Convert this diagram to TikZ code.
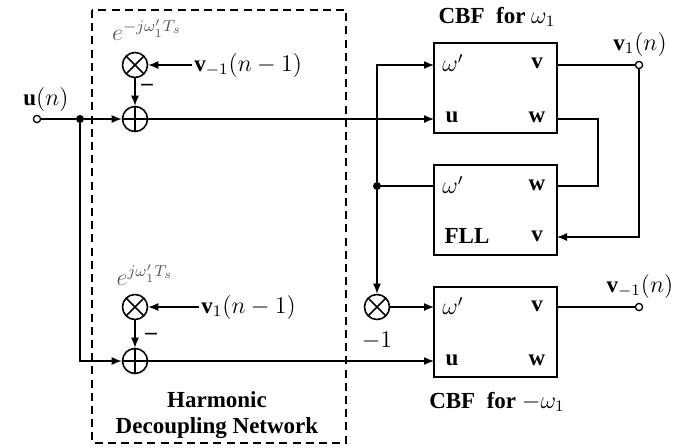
\documentclass[tikz,border=0pt]{standalone}
\usepackage{fontspec}
\setmainfont{Liberation Serif}
\usetikzlibrary{arrows.meta}
\begin{document}
\begin{tikzpicture}[x=0.5pt,y=-0.5pt,
  font=\fontsize{11.5}{13.8}\selectfont,
  conn/.style={line width=0.65pt},
  arr/.style={conn,-{Latex[length=5pt,width=4pt]}},
  blk/.style={draw,line width=1.4pt,minimum width=61.5pt,minimum height=45pt,inner sep=0pt},
  mult/.style={circle,draw,line width=0.8pt,minimum size=12.5pt,inner sep=0pt,
    path picture={\draw[line width=0.8pt] (path picture bounding box.north west) -- (path picture bounding box.south east)
      (path picture bounding box.north east) -- (path picture bounding box.south west);}},
  adder/.style={circle,draw,line width=0.8pt,minimum size=12.5pt,inner sep=0pt,
    path picture={\draw[line width=0.8pt] (path picture bounding box.north) -- (path picture bounding box.south)
      (path picture bounding box.east) -- (path picture bounding box.west);}},
  term/.style={circle,draw,line width=0.65pt,fill=white,minimum size=3.6pt,inner sep=0pt},
  jdot/.style={circle,fill,minimum size=4pt,inner sep=0pt},
  lbl/.style={inner sep=1pt},
  gr/.style={text=black!65},
]
\useasboundingbox (0,0) rectangle (682,447);
% dashed network box
\draw[line width=0.7pt,dash pattern=on 4pt off 2.6pt] (92,10) rectangle (346,443);
\node[font=\fontsize{11.5}{13}\selectfont\bfseries,align=center] (hdn) at (217,415) {Harmonic\\Decoupling Network};

% left part
\node[term] (uin) at (37,119) {};
\node[lbl] (ulbl) at (46,99) {$\mathbf{u}(n)$};
\node[jdot] (j1) at (80,119) {};
\node[adder] (add1) at (135,119) {};
\node[mult] (mul1) at (135,65) {};
\node[lbl,gr] (e1) at (147,30) {$e^{-j\omega_1' T_s}$};
\node[lbl,anchor=west] (vm1p) at (192,65) {$\mathbf{v}_{-1}(n-1)$};
\node[lbl,font=\fontsize{11.5}{13}\selectfont\bfseries] (minus1) at (147,87) {--};

\node[adder] (add2) at (135,361) {};
\node[mult] (mul2) at (135,307) {};
\node[lbl,gr] (e2) at (145,275) {$e^{j\omega_1' T_s}$};
\node[lbl,anchor=west] (v1p) at (199,307) {$\mathbf{v}_{1}(n-1)$};
\node[lbl,font=\fontsize{11.5}{13}\selectfont\bfseries] (minus2) at (151,336) {--};

% blocks
\node[blk] (cbf1) at (495.5,88) {};
\node[blk] (fll) at (495.5,210) {};
\node[blk] (cbf2) at (495.5,332) {};
\node[font=\fontsize{11.5}{13}\selectfont\bfseries] (cbf1t) at (497,17) {CBF\ \ for $\omega_1$};
\node[font=\fontsize{11.5}{13}\selectfont\bfseries] (cbf2t) at (497,402) {CBF\ \ for $-\omega_1$};

\node (c1om) at (453,63) {$\omega'$};
\node (c1v) at (537,63) {$\mathbf{v}$};
\node (c1u) at (452,117) {$\mathbf{u}$};
\node (c1wl) at (537,117) {$\mathbf{w}$};
\node (flom) at (453,185) {$\omega'$};
\node (flw) at (537,185) {$\mathbf{w}$};
\node[font=\fontsize{11.5}{13}\selectfont\bfseries] (flname) at (467,236) {FLL};
\node (flv) at (537,236) {$\mathbf{v}$};
\node (c2om) at (453,306) {$\omega'$};
\node (c2v) at (537,306) {$\mathbf{v}$};
\node (c2u) at (452,360) {$\mathbf{u}$};
\node (c2wl) at (537,360) {$\mathbf{w}$};

% port coordinates
\coordinate (p1om) at (434,65);
\coordinate (p1u) at (434,119);
\coordinate (p1v) at (557,65);
\coordinate (p1w) at (557,119);
\coordinate (pfom) at (434,186);
\coordinate (pfw) at (557,186);
\coordinate (pfv) at (557,237);
\coordinate (p2om) at (434,307);
\coordinate (p2u) at (434,361);
\coordinate (p2v) at (557,307);
\coordinate (rt) at (598,119);

\node[jdot] (j2) at (377,186) {};
\node[mult] (mul3) at (377,307) {};
\node[lbl] (m1) at (377,341) {$-1$};

\node[term] (out1) at (639,65) {};
\node[lbl] (out1l) at (640,44) {$\mathbf{v}_1(n)$};
\node[term] (out2) at (639,307) {};
\node[lbl] (out2l) at (640,286) {$\mathbf{v}_{-1}(n)$};

% connectors
\draw[conn] (uin) -- (j1);
\draw[arr] (j1) -- (add1);
\draw[arr] (vm1p.west) -- (mul1);
\draw[arr] (mul1) -- (add1);
\draw[arr] (add1) -- (p1u);
\draw[arr] (j1) |- (add2);
\draw[arr] (v1p.west) -- (mul2);
\draw[arr] (mul2) -- (add2);
\draw[arr] (add2) -- (p2u);

\draw[conn] (pfom) -- (j2);
\draw[arr] (j2) |- (p1om);
\draw[arr] (j2) -- (mul3);
\draw[arr] (mul3) -- (p2om);

\draw[conn] (p1v) -- (out1);
\draw[arr] (out1) |- (pfv);
\draw[conn] (p1w) -- (rt) |- (pfw);
\draw[conn] (p2v) -- (out2);
\end{tikzpicture}
\end{document}
